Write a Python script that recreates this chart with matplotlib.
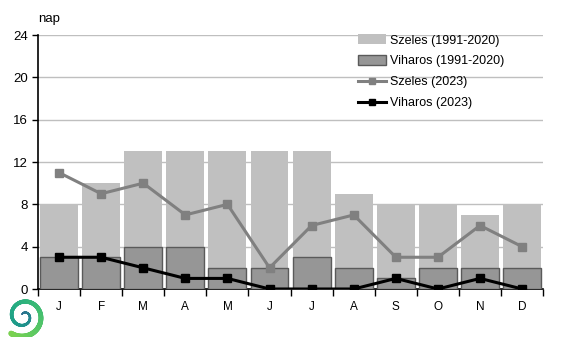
import numpy as np
import matplotlib.pyplot as plt
from matplotlib.patches import Patch
from matplotlib.lines import Line2D

months = ["J", "F", "M", "A", "M", "J", "J", "A", "S", "O", "N", "D"]
szeles_normal = [8, 10, 13, 13, 13, 13, 13, 9, 8, 8, 7, 8]
viharos_normal = [3, 3, 4, 4, 2, 2, 3, 2, 1, 2, 2, 2]
szeles_2023 = [11, 9, 10, 7, 8, 2, 6, 7, 3, 3, 6, 4]
viharos_2023 = [3, 3, 2, 1, 1, 0, 0, 0, 1, 0, 1, 0]
yticks = [0, 4, 8, 12, 16, 20, 24]

plt.rcParams['font.family'] = ['Liberation Sans', 'DejaVu Sans']

fig = plt.figure(figsize=(5.67, 3.40), dpi=100)
ax = fig.add_axes([0.067, 0.15, 0.891, 0.747])
x = np.arange(len(months))

ax.bar(x, szeles_normal, width=0.9, color="#c0c0c0", zorder=2)
ax.bar(x, viharos_normal, width=0.9, color="#969696", edgecolor="#5a5a5a",
       linewidth=1.0, zorder=3)
ax.plot(x, szeles_2023, color="#808080", lw=2.2, marker="s", ms=5.5, zorder=4)
ax.plot(x, viharos_2023, color="black", lw=2.2, marker="s", ms=5.5, zorder=5)

ax.set_xlim(-0.5, 11.5)
ax.set_ylim(0, 24)
ax.set_yticks(yticks)
ax.yaxis.grid(True, color="#bfbfbf", lw=1.0, zorder=0)
ax.set_axisbelow(True)
ax.set_xticks(x)
ax.set_xticklabels(months)
ax.set_xticks(np.arange(-0.5, 12, 1), minor=True)
ax.tick_params(axis="x", which="major", length=0, pad=9, labelsize=8.5)
ax.tick_params(axis="x", which="minor", length=5, direction="out", width=1)
ax.tick_params(axis="y", length=4, direction="out", width=1, labelsize=9.5)
for s in ["top", "right"]:
    ax.spines[s].set_visible(False)
ax.spines["left"].set_linewidth(1.2)
ax.spines["bottom"].set_linewidth(1.2)
ax.text(0.0, 1.04, "nap", transform=ax.transAxes, fontsize=9.5,
        ha="left", va="bottom")

handles = [
    Patch(facecolor="#c0c0c0", edgecolor="none"),
    Patch(facecolor="#969696", edgecolor="#5a5a5a"),
    Line2D([], [], color="#808080", lw=2.2, marker="s", ms=5),
    Line2D([], [], color="black", lw=2.2, marker="s", ms=5),
]
labels = ["Szeles (1991-2020)", "Viharos (1991-2020)", "Szeles (2023)", "Viharos (2023)"]
leg = ax.legend(handles, labels, loc="upper left", bbox_to_anchor=(0.624, 1.022),
                frameon=False, fontsize=9, handlelength=2.2, handleheight=0.8,
                labelspacing=0.7, handletextpad=0.35, borderaxespad=0)

# spiral emblem
lax = fig.add_axes([0.004, 0.005, 0.075, 0.13])
lax.set_xlim(-1.1, 1.1)
lax.set_ylim(-1.1, 1.1)
lax.set_aspect("equal")
lax.axis("off")
t = np.linspace(0.3 * np.pi, 3.7 * np.pi, 400)
r = 0.12 + 0.98 * (t - t[0]) / (t[-1] - t[0])
xs = r * np.cos(-t + np.pi)
ys = r * np.sin(-t + np.pi)
cmap = plt.get_cmap("viridis")
for i in range(len(t) - 1):
    c = 0.35 + 0.45 * i / len(t)
    lax.plot(xs[i:i + 2], ys[i:i + 2], color=cmap(c), lw=1.0 + 3.0 * i / len(t),
             solid_capstyle="round")

fig.savefig("out.png", dpi=100)
